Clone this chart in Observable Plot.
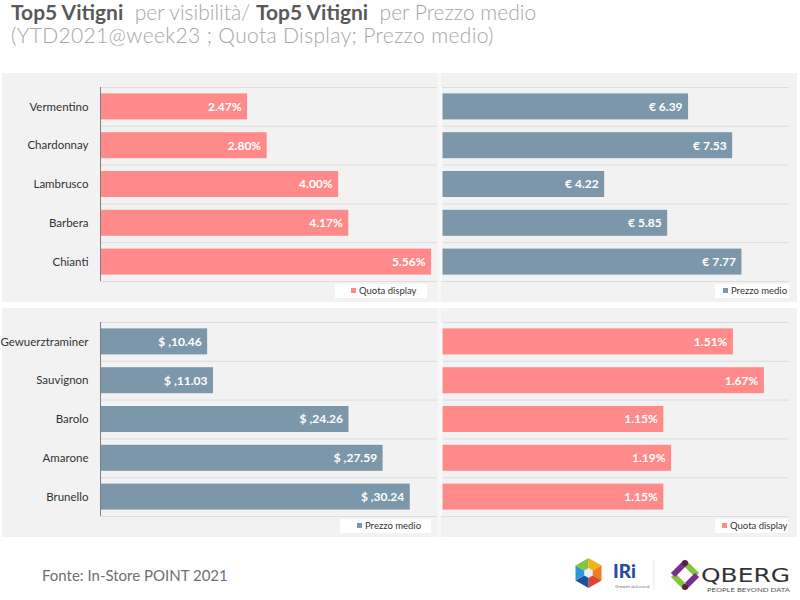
<!DOCTYPE html>
<html>
<head>
<meta charset="utf-8">
<script src="https://cdn.jsdelivr.net/npm/d3@7"></script>
<script src="https://cdn.jsdelivr.net/npm/@observablehq/plot@0.6"></script>
<style>
  body { margin: 0; background: #fff; }
  #root { position: relative; width: 800px; height: 600px; overflow: hidden; font-family: Lato, "Noto Sans", sans-serif; background: #fff; }
  .abs { position: absolute; }
  .panel { position: absolute; background: #f2f2f2; }
  .legend { position: absolute; background: #fff; font-size: 9.5px; color: #333; height: 14px; line-height: 14px; white-space: nowrap; }
  .legend i { display: inline-block; width: 5px; height: 5px; margin-right: 3px; vertical-align: 1px; }
</style>
</head>
<body>
<div id="root">
  <div class="abs" style="left:11px;top:0px;font-size:21px;line-height:23px;color:#a6a6a6;font-weight:300;white-space:nowrap">
    <span style="color:#595959;font-weight:700">Top5 Vitigni</span>&nbsp; per visibilità/ <span style="color:#595959;font-weight:700">Top5 Vitigni</span>&nbsp; per Prezzo medio<br><span style="letter-spacing:0.35px">(YTD2021@week23 ; Quota Display; Prezzo medio)</span>
  </div>

  <div class="panel" style="left:2px;top:73px;width:436px;height:229px"></div>
  <div class="panel" style="left:441px;top:73px;width:356px;height:229px"></div>
  <div class="panel" style="left:2px;top:308px;width:436px;height:229px"></div>
  <div class="panel" style="left:441px;top:308px;width:356px;height:229px"></div>
  <div class="abs" style="left:438px;top:73px;width:3px;height:229px;background:#f8f8f8"></div>
  <div class="abs" style="left:438px;top:308px;width:3px;height:229px;background:#f8f8f8"></div>

  <div id="tl" class="abs" style="left:2px;top:73px"></div>
  <div id="tr" class="abs" style="left:440px;top:73px"></div>
  <div id="bl" class="abs" style="left:2px;top:308px"></div>
  <div id="br" class="abs" style="left:440px;top:308px"></div>

  <div id="lg1" class="legend" style="left:335px;top:284px;width:92px"></div>
  <div id="lg2" class="legend" style="left:715px;top:284px;width:74px"></div>
  <div id="lg3" class="legend" style="left:340px;top:519px;width:91px"></div>
  <div id="lg4" class="legend" style="left:715px;top:519px;width:73px"></div>

  <div class="abs" style="left:42px;top:566px;font-size:15px;line-height:18px;color:#6f6f6f;font-weight:400;white-space:nowrap">Fonte: In-Store POINT 2021</div>

  <svg class="abs" style="left:560px;top:545px" width="240" height="55" viewBox="0 0 240 55">
    <g transform="translate(28.5,28)">
      <polygon points="0,0 0,-15 13,-7.5" fill="#f5b21b"/>
      <polygon points="0,0 13,-7.5 13,7.5" fill="#ef7d22"/>
      <polygon points="0,0 13,7.5 0,15" fill="#e2432d"/>
      <polygon points="0,0 0,15 -13,7.5" fill="#1d4f9c"/>
      <polygon points="0,0 -13,7.5 -13,-7.5" fill="#2a9ad6"/>
      <polygon points="0,0 -13,-7.5 0,-15" fill="#86c440"/>
      <polygon points="0,-5 4.3,-2.5 4.3,2.5 0,5 -4.3,2.5 -4.3,-2.5" fill="#e8eef4"/>
    </g>
    <text x="53" y="33" font-family="Lato" font-weight="900" font-size="19" fill="#2b4c9b">IRi</text>
    <text x="55" y="43" font-family="Lato" font-size="4.5" fill="#777">Growth delivered.</text>
    <line x1="94" y1="15" x2="94" y2="45" stroke="#e6e6e6"/>
    <g transform="translate(125,30)">
      <line x1="0" y1="-12" x2="12" y2="0" stroke="#86c440" stroke-width="6"/>
      <line x1="12" y1="0" x2="0" y2="12" stroke="#7b2d8e" stroke-width="6"/>
      <line x1="0" y1="12" x2="-12" y2="0" stroke="#86c440" stroke-width="6"/>
      <line x1="-12" y1="0" x2="0" y2="-12" stroke="#7b2d8e" stroke-width="6"/>
      <circle cx="0" cy="-12" r="3" fill="#5a1f3a"/>
      <circle cx="0" cy="12" r="3" fill="#5a1f3a"/>
    </g>
    <text x="141" y="37" font-family="Liberation Sans Narrow, DejaVu Sans Condensed, sans-serif" font-size="19" fill="#333" textLength="89" lengthAdjust="spacingAndGlyphs">QBERG</text>
    <text x="147" y="46.5" font-family="Lato" font-size="5" fill="#555" textLength="83" lengthAdjust="spacingAndGlyphs">PEOPLE BEYOND DATA</text>
  </svg>
</div>
<script>
const topCats = ["Vermentino", "Chardonnay", "Lambrusco", "Barbera", "Chianti"];
const topQuota = [2.47, 2.80, 4.00, 4.17, 5.56];
const topPrezzo = [6.39, 7.53, 4.22, 5.85, 7.77];
const botCats = ["Gewuerztraminer", "Sauvignon", "Barolo", "Amarone", "Brunello"];
const botPrezzo = [10.46, 11.03, 24.26, 27.59, 30.24];
const botQuota = [1.51, 1.67, 1.15, 1.19, 1.15];

const PINK = "#ff8a8a";
const BLUE = "#7d97aa";

const fmtPct = v => v.toFixed(2) + "%";
const fmtEur = v => "€ " + v.toFixed(2);
const fmtUsd = v => "$ ," + v.toFixed(2);

function panel({cats, values, fmt, color, xMax, labels}) {
  const data = cats.map((c, i) => ({c, i, v: values[i]}));
  const rows = d3.range(cats.length + 1);
  const left = labels;
  return Plot.plot({
    width: left ? 436 : 358,
    height: 229,
    marginLeft: left ? 98 : 1,
    marginRight: left ? 1 : 9,
    marginTop: 14,
    marginBottom: 21,
    x: {domain: [0, xMax], axis: null},
    y: {domain: [0, cats.length], reverse: true, axis: left ? undefined : null},
    style: {background: "transparent", fontFamily: "Lato, 'Noto Sans', sans-serif", color: "#333", overflow: "visible"},
    marks: [
      Plot.ruleY(rows, {stroke: "#dddddd", strokeWidth: 1}),
      Plot.rectX(data, {x1: 0, x2: "v", y1: "i", y2: d => d.i + 1, insetTop: 6.4, insetBottom: 6.4, fill: color}),
      Plot.text(data, {x: "v", y: d => d.i + 0.5, text: d => fmt(d.v), textAnchor: "end", dx: -6, fill: "white", fontWeight: "bold", fontSize: 12}),
      left ? Plot.axisY({ticks: data.map(d => d.i + 0.5), tickFormat: t => cats[Math.floor(t)], tickSize: 0, tickPadding: 12, fontSize: 11.5, label: null}) : null,
      left ? Plot.ruleX([0], {y1: 0, y2: cats.length, stroke: "#7f7f7f"}) : Plot.ruleX([0], {y1: 0, y2: cats.length, stroke: "#fafafa", strokeWidth: 2})
    ]
  });
}

document.getElementById("tl").append(panel({cats: topCats, values: topQuota, fmt: fmtPct, color: PINK, xMax: 5.66, labels: true}));
document.getElementById("tr").append(panel({cats: topCats, values: topPrezzo, fmt: fmtEur, color: BLUE, xMax: 9.0, labels: false}));
document.getElementById("bl").append(panel({cats: botCats, values: botPrezzo, fmt: fmtUsd, color: BLUE, xMax: 32.9, labels: true}));
document.getElementById("br").append(panel({cats: botCats, values: botQuota, fmt: fmtPct, color: PINK, xMax: 1.8, labels: false}));

function legend(id, color, text, padLeft) {
  const el = document.getElementById(id);
  el.style.paddingLeft = padLeft + "px";
  el.style.boxSizing = "border-box";
  el.innerHTML = `<i style="background:${color}"></i>${text}`;
}
legend("lg1", PINK, "Quota display", 16);
legend("lg2", BLUE, "Prezzo medio", 8);
legend("lg3", BLUE, "Prezzo medio", 17);
legend("lg4", PINK, "Quota display", 7);
</script>
</body>
</html>
